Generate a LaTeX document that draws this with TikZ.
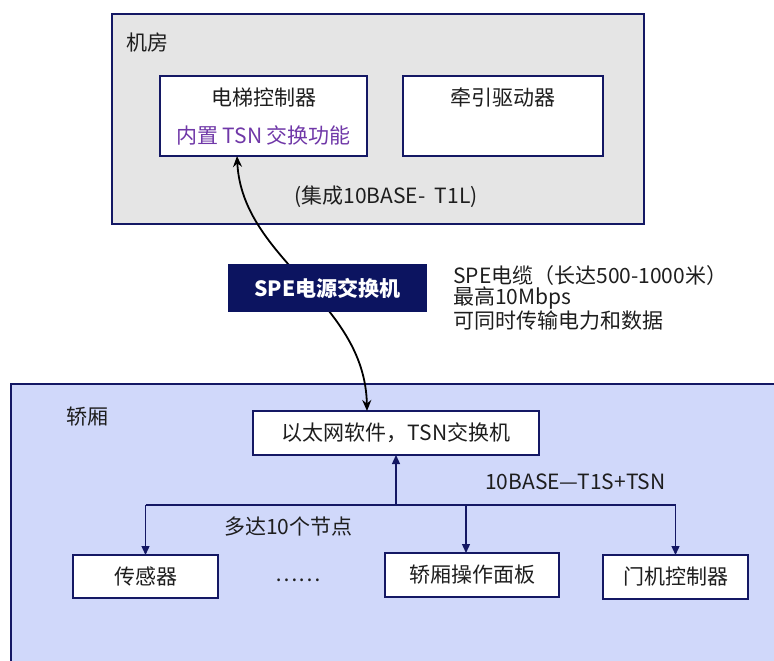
\documentclass[tikz,border=0pt]{standalone}
\usepackage{fontspec}
\setmainfont{Noto Sans CJK SC}
\usetikzlibrary{arrows.meta,calc}
\definecolor{navy}{RGB}{20,24,100}
\definecolor{spefill}{RGB}{12,20,96}
\definecolor{roomgray}{RGB}{229,229,229}
\definecolor{carfill}{RGB}{208,216,250}
\definecolor{purp}{RGB}{112,56,168}
\definecolor{txt}{RGB}{30,30,30}
\begin{document}
\begin{tikzpicture}[x=1pt,y=-1pt,
  every node/.style={font=\fontsize{21}{24}\selectfont, text=txt},
  areabox/.style={draw=navy, line width=2.8pt, inner sep=0pt, outer sep=0pt, anchor=north west},
  unitbox/.style={draw=navy, line width=1.8pt, fill=white, inner sep=0pt, outer sep=0pt, anchor=north west},
  lbl/.style={anchor=west, inner sep=0pt},
  cableline/.style={draw=black, line width=1.8pt, {Stealth[length=11pt,width=9pt]}-{Stealth[length=11pt,width=9pt]}},
  busline/.style={draw=navy, line width=1.3pt},
  busarrow/.style={busline, -{Triangle[length=9pt,width=8pt]}}]
\useasboundingbox (0,0) rectangle (774,661);

% machine room
\node[areabox, fill=roomgray, minimum width=532pt, minimum height=210pt] (room) at (112,14) {};
\node[lbl] (roomlbl) at (126,43) {机房};
\node[unitbox, minimum width=207pt, minimum height=80pt] (ctrl) at (160,76) {};
\node (ctrlname) at (263.5,98) {电梯控制器};
\node[text=purp] (ctrltsn) at (263.5,135) {内置 TSN 交换功能};
\node[unitbox, minimum width=200pt, minimum height=80pt] (drive) at (403,76) {};
\node (drivename) at (503,98) {牵引驱动器};
\node (t1l) at (386,197) {(集成10BASE-\ \ T1L)};

% car
\begin{scope}
\clip (0,0) rectangle (774,661);
\node[areabox, fill=carfill, minimum width=790pt, minimum height=300pt] (car) at (11,384) {};
\end{scope}
\node[lbl] (carlbl) at (66,417) {轿厢};
\node[unitbox, minimum width=286pt, minimum height=44pt] (eth) at (253,411) {以太网软件，TSN交换机};
\node[unitbox, minimum width=145pt, minimum height=43pt] (sensor) at (73,555) {传感器};
\node[unitbox, minimum width=174pt, minimum height=44pt] (panel) at (385,553) {轿厢操作面板};
\node[unitbox, minimum width=145pt, minimum height=44pt] (door) at (603,555) {门机控制器};
\node (dots) at (298,580) {……};
\node[lbl] (upto) at (224,527) {多达10个节点};
\node[lbl] (t1s) at (485,482) {10BASE—T1S+TSN};

% bus
\coordinate (hub) at (396,505);
\coordinate (busL) at (145.5,505);
\coordinate (busR) at (675.5,505);
\coordinate (pdrop) at (466,505);
\draw[busline] (busL) -- (busR);
\draw[busarrow] (hub) -- (eth.south);
\draw[busarrow] (busL) -- (sensor.north);
\draw[busarrow] (pdrop) -- (pdrop |- panel.north);
\draw[busarrow] (busR) -- (door.north);

% SPE cable
\draw[cableline] ([xshift=-26.5pt]ctrl.south) .. controls (242,260) and (365,300) .. ([xshift=-29pt]eth.north);
\node[anchor=north west, fill=spefill, minimum width=199pt, minimum height=48pt, inner sep=0pt, outer sep=0pt, text=white, font=\fontsize{21}{24}\selectfont\bfseries] (spe) at (228,264) {SPE电源交换机};

\node[lbl] (cable1) at (453,276) {SPE电缆（长达500-1000米）};
\node[lbl] (cable2) at (453,298) {最高10Mbps};
\node[lbl] (cable3) at (453,321) {可同时传输电力和数据};
\end{tikzpicture}
\end{document}
